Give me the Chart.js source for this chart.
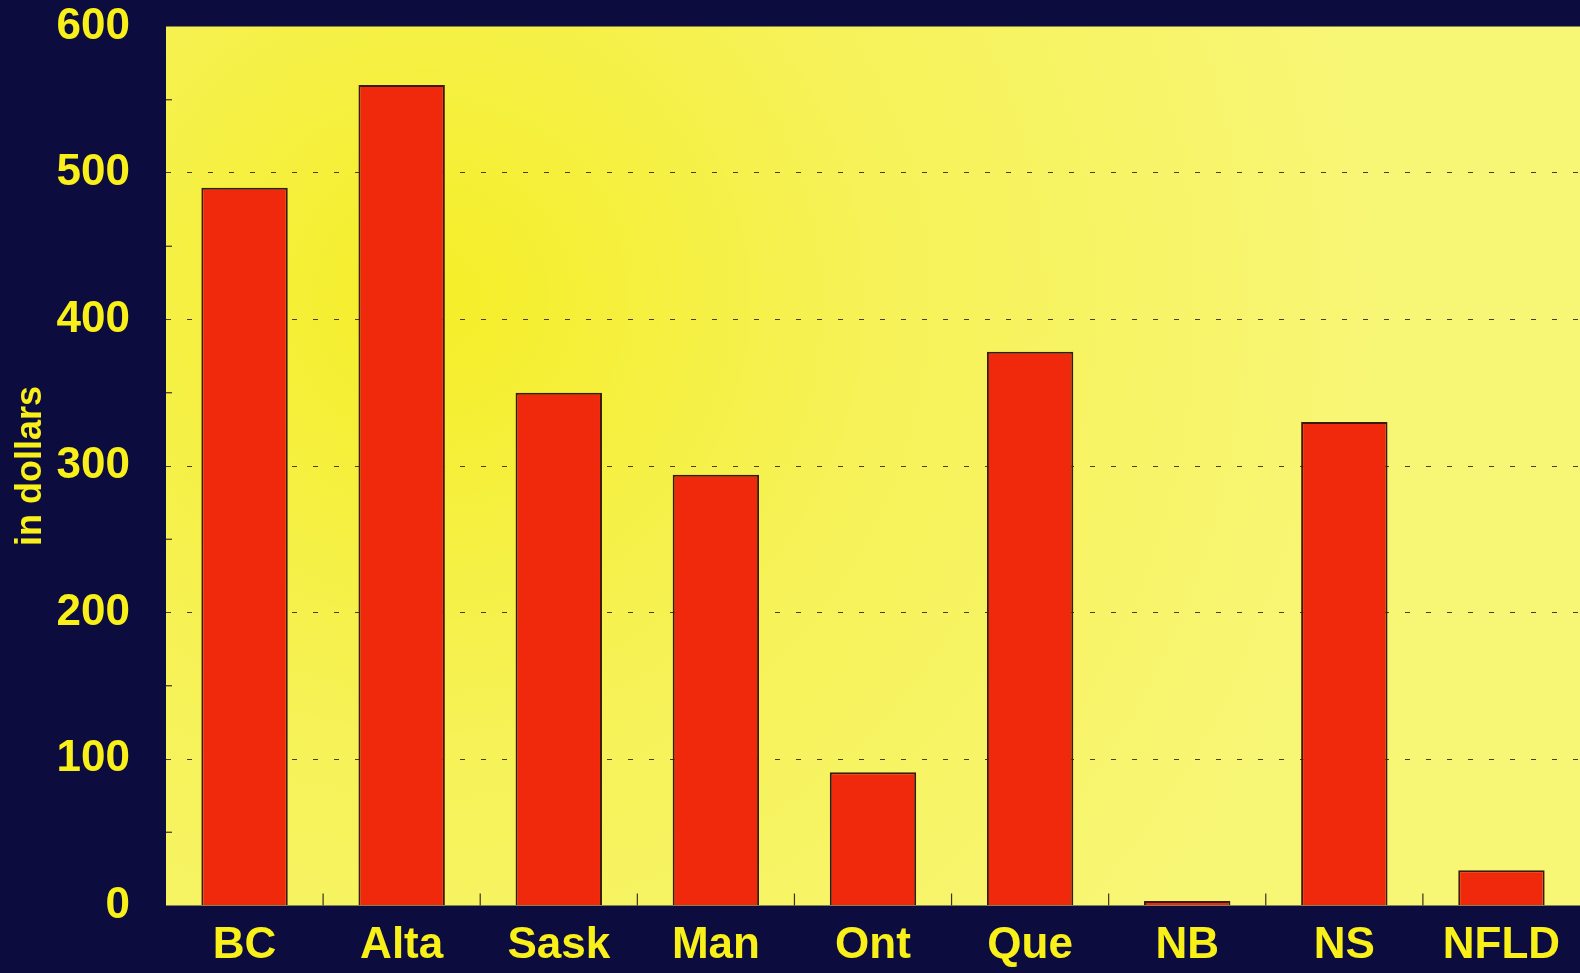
<!DOCTYPE html>
<html>
<head>
<meta charset="utf-8">
<script src="https://cdn.jsdelivr.net/npm/chart.js@4.4.0/dist/chart.umd.min.js"></script>
<style>
  html, body { margin: 0; padding: 0; background: #0c0d3e; }
  #wrap { width: 1580px; height: 973px; }
</style>
</head>
<body>
<div id="wrap"><canvas id="graphique"></canvas></div>
<script>
// Données
const provinces = ["BC", "Alta", "Sask", "Man", "Ont", "Que", "NB", "NS", "NFLD"];
const montants = [490, 560, 350, 294, 91, 378, 3, 330, 24];
const ticksY = [0, 100, 200, 300, 400, 500, 600];
const ticksMineurs = [50, 150, 250, 350, 450, 550];

const jaune = "#f8f018";
const police = "'Liberation Sans', Arial, sans-serif";

// Fond jaune de la zone de tracé + petites graduations
const fondEtGraduations = {
  id: "fondEtGraduations",
  beforeDraw(chart) {
    const { ctx, chartArea } = chart;
    ctx.save();
    ctx.fillStyle = "#0c0d3e";
    ctx.fillRect(0, 0, chart.width, chart.height);
    const grad = ctx.createRadialGradient(430, 300, 20, 430, 300, 950);
    grad.addColorStop(0, "#f5ee2a");
    grad.addColorStop(0.45, "#f6f257");
    grad.addColorStop(1, "#f8f675");
    ctx.fillStyle = grad;
    ctx.fillRect(chartArea.left, chartArea.top, chartArea.right - chartArea.left, chartArea.bottom - chartArea.top);
    ctx.restore();
  },
  afterDatasetsDraw(chart) {
    const { ctx, chartArea, scales } = chart;
    ctx.save();
    ctx.strokeStyle = "#3a3020";
    ctx.lineWidth = 1.2;
    // graduations entre les catégories (vers le haut)
    for (let i = 1; i < provinces.length; i++) {
      const x = (scales.x.getPixelForTick(i - 1) + scales.x.getPixelForTick(i)) / 2;
      ctx.beginPath();
      ctx.moveTo(x, chartArea.bottom);
      ctx.lineTo(x, chartArea.bottom - 12);
      ctx.stroke();
    }
    // graduations mineures sur l'axe vertical
    for (const v of ticksMineurs) {
      const y = scales.y.getPixelForValue(v);
      ctx.beginPath();
      ctx.moveTo(chartArea.left, y);
      ctx.lineTo(chartArea.left + 6, y);
      ctx.stroke();
    }
    ctx.restore();
  }
};

const data = {
  labels: provinces,
  datasets: [{
    data: montants,
    backgroundColor: "#f0290c",
    borderColor: "#3b1a0e",
    borderWidth: 2,
    borderSkipped: "bottom",
    barPercentage: 0.55,
    categoryPercentage: 1.0
  }]
};

const config = {
  type: "bar",
  data: data,
  options: {
    responsive: true,
    maintainAspectRatio: false,
    animation: false,
    layout: { padding: { top: 26.5, right: 0, left: 0, bottom: 0 } },
    plugins: {
      legend: { display: false },
      tooltip: { enabled: false }
    },
    scales: {
      x: {
        offset: true,
        grid: { display: false, drawTicks: false },
        border: { display: false },
        ticks: {
          color: jaune,
          padding: 14,
          font: { family: police, size: 44, weight: "bold" }
        },
        afterFit(scale) {
          scale.height = 67.5;
          scale.paddingLeft = 0;
          scale.paddingRight = 0;
        }
      },
      y: {
        min: 0,
        max: 600,
        afterBuildTicks(scale) { scale.ticks = ticksY.map(v => ({ value: v })); },
        grid: {
          drawTicks: false,
          lineWidth: 1,
          color(ctx) {
            const v = ctx.tick ? ctx.tick.value : 0;
            return (v === 0 || v === 600) ? "rgba(0,0,0,0)" : "rgba(60,40,25,0.9)";
          }
        },
        border: { display: false, dash: [5, 16] },
        ticks: {
          color: jaune,
          padding: 36,
          font: { family: police, size: 44, weight: "bold" }
        },
        title: {
          display: true,
          text: "in dollars",
          color: jaune,
          padding: { top: 9, bottom: 0 },
          font: { family: police, size: 36, weight: "bold" }
        },
        afterFit(scale) {
          scale.width = 166;
          scale.paddingTop = 0;
          scale.paddingBottom = 0;
        }
      }
    }
  },
  plugins: [fondEtGraduations]
};

const graphique = new Chart(document.querySelector("#graphique"), config);
</script>
</body>
</html>
